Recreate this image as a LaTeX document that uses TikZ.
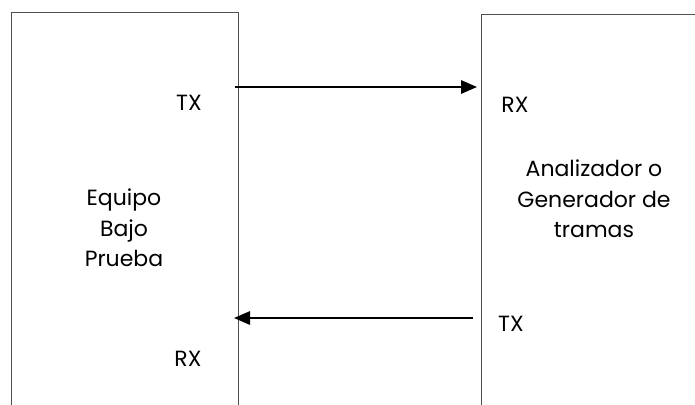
\documentclass[tikz,border=0pt]{standalone}
\usepackage{fontspec}
\setmainfont{Poppins}
\usetikzlibrary{arrows.meta}

\tikzset{every picture/.style={line width=0.75pt}}
\tikzset{
  boxline/.style={draw={rgb,255:red,80;green,80;blue,80}, line width=0.75},
  sigarrow/.style={line width=1.5, -{Triangle[length=12pt,width=10pt]}},
  lbl/.style={font=\fontsize{16.5}{23}\selectfont, align=center, inner sep=0pt}
}

\begin{document}
\begin{tikzpicture}[x=0.75pt,y=0.75pt,yscale=-1,xscale=1]
	\useasboundingbox (0,0) rectangle (695,404);

	%Shape: Rectangle (equipo bajo prueba)
	\draw [boxline]  (11,410) -- (11,12) -- (238,12) -- (238,410) ;
	%Shape: Rectangle (analizador)
	\draw [boxline]  (481,410) -- (481,14) -- (700,14) ;

	% Coordinates for the links
	\coordinate (dutTx) at (235,87);
	\coordinate (anaRx) at (477,87);
	\coordinate (anaTx) at (473,318);
	\coordinate (dutRx) at (234,318);

	%Straight Lines
	\draw [sigarrow]  (dutTx) -- (anaRx) ;
	%Straight Lines
	\draw [sigarrow]  (anaTx) -- (dutRx) ;

	% Text Node
	\node [lbl] (txLeft) at (189,103) {TX};
	% Text Node
	\node [lbl] (rxLeft) at (188,359) {RX};
	% Text Node
	\node [lbl] (dut) at (124,228) {Equipo\\Bajo\\Prueba};
	% Text Node
	\node [lbl] (rxRight) at (515,105) {RX};
	% Text Node
	\node [lbl] (txRight) at (511,324) {TX};
	% Text Node
	\node [lbl] (ana) at (594,199) {Analizador o\\Generador de\\tramas};

\end{tikzpicture}
\end{document}
